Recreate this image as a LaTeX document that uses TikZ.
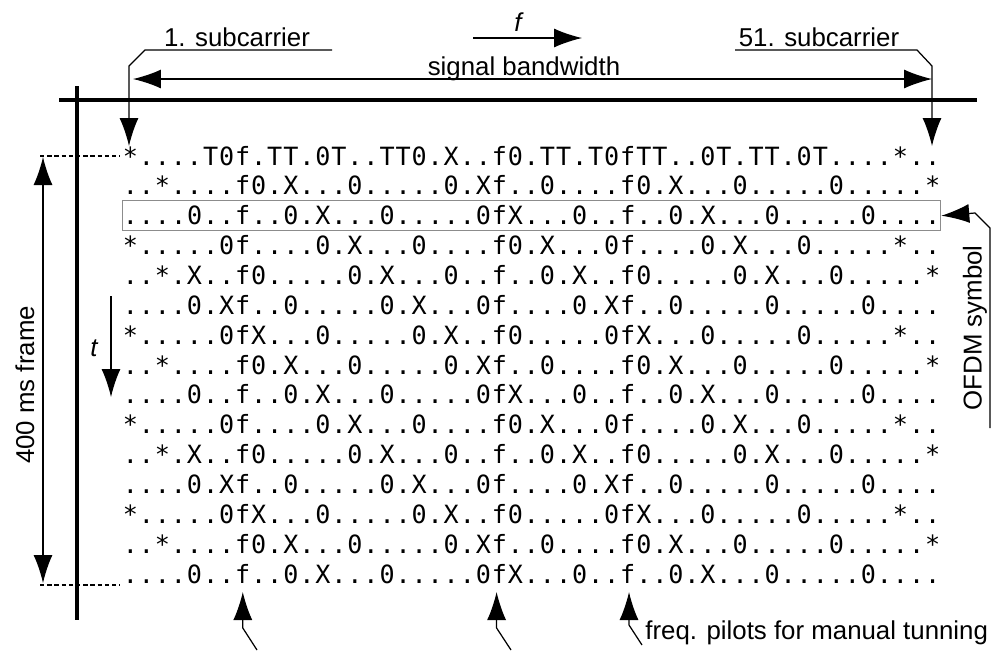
\documentclass[tikz,border=0pt]{standalone}
\usepackage{fontspec}
\setmainfont{Liberation Sans}
\newfontfamily\monofont{DejaVu Sans Mono}
\usetikzlibrary{arrows.meta}
\newcommand\cellw{0.321cm}
\makeatletter
\def\mrow#1{\mrow@i#1\relax}
\def\mrow@i#1{\ifx#1\relax\else\makebox[\cellw]{#1}\expandafter\mrow@i\fi}
\makeatother
\begin{document}
\begin{tikzpicture}[x=0.02cm,y=-0.02cm,
  lbl/.style={font=\fontsize{14.7}{17}\selectfont, inner sep=0},
  rowtxt/.style={font=\monofont\fontsize{14.3}{16}\selectfont, inner sep=0, anchor=base west, text height=0.48cm, text depth=0.12cm},
  axisline/.style={line width=2pt},
  conn/.style={line width=0.7pt},
  bigarrow/.style={conn, -{Latex[length=0.56cm,width=0.38cm]}},
  dblarrow/.style={conn, {Latex[length=0.56cm,width=0.38cm]}-{Latex[length=0.56cm,width=0.38cm]}},
  guide/.style={line width=0.7pt, dash pattern=on 2.5pt off 1.6pt}
]
\useasboundingbox (0,0) rectangle (1000,650);
\fill[white] (0,0) rectangle (1000,650);

% axes
\draw[axisline] (59,100) -- (977,100);
\draw[axisline] (77,86) -- (77,620);

% rows
\def\rA{..*....f0.X...0.....0.Xf..0....f0.X...0.....0.....*}
\def\rB{....0..f..0.X...0.....0fX...0..f..0.X...0.....0....}
\def\rC{*.....0f....0.X...0....f0.X...0f....0.X...0.....*..}
\def\rD{..*.X..f0.....0.X...0..f..0.X..f0.....0.X...0.....*}
\def\rE{....0.Xf..0.....0.X...0f....0.Xf..0.....0.....0....}
\def\rF{*.....0fX...0.....0.X..f0.....0fX...0.....0.....*..}
\node[rowtxt] (r1) at (122,165) {\mrow{*....T0f.TT.0T..TT0.X..f0.TT.T0fTT..0T.TT.0T....*..}};
\node[rowtxt] (r2) at (122,194.86) {\expandafter\mrow\expandafter{\rA}};
\node[rowtxt, draw=black!45, line width=0.5pt] (r3) at (122,224.71) {\expandafter\mrow\expandafter{\rB}};
\node[rowtxt] (r4) at (122,254.57) {\expandafter\mrow\expandafter{\rC}};
\node[rowtxt] (r5) at (122,284.43) {\expandafter\mrow\expandafter{\rD}};
\node[rowtxt] (r6) at (122,314.29) {\expandafter\mrow\expandafter{\rE}};
\node[rowtxt] (r7) at (122,344.14) {\expandafter\mrow\expandafter{\rF}};
\node[rowtxt] (r8) at (122,374.00) {\expandafter\mrow\expandafter{\rA}};
\node[rowtxt] (r9) at (122,403.86) {\expandafter\mrow\expandafter{\rB}};
\node[rowtxt] (r10) at (122,433.71) {\expandafter\mrow\expandafter{\rC}};
\node[rowtxt] (r11) at (122,463.57) {\expandafter\mrow\expandafter{\rD}};
\node[rowtxt] (r12) at (122,493.43) {\expandafter\mrow\expandafter{\rE}};
\node[rowtxt] (r13) at (122,523.29) {\expandafter\mrow\expandafter{\rF}};
\node[rowtxt] (r14) at (122,553.14) {\expandafter\mrow\expandafter{\rA}};
\node[rowtxt] (r15) at (122,583.00) {\expandafter\mrow\expandafter{\rB}};

% top labels
\node[lbl] (sc1) at (237,37) {1. subcarrier};
\node[lbl] (sc51) at (819,37) {51. subcarrier};
\node[lbl, anchor=base] (bw) at (524,75) {signal bandwidth};
\node[lbl, font=\fontsize{14.7}{17}\selectfont\itshape] (f) at (518,22) {f};

\coordinate (fa) at (473,38);
\coordinate (fb) at (582,38);
\draw[bigarrow] (fa) -- (fb);

\coordinate (bwl) at (133,79);
\coordinate (bwr) at (932,79);
\draw[dblarrow] (bwl) -- (bwr);

\coordinate (s1a) at (332,50);
\coordinate (s1b) at (145,50);
\coordinate (s1c) at (129,66);
\coordinate (s1t) at (129,146);
\draw[bigarrow] (s1a) -- (s1b) -- (s1c) -- (s1t);

\coordinate (s5a) at (735,50);
\coordinate (s5b) at (917,50);
\coordinate (s5c) at (932,66);
\coordinate (s5t) at (932,146);
\draw[bigarrow] (s5a) -- (s5b) -- (s5c) -- (s5t);

% left: frame
\coordinate (g1a) at (40,156);
\coordinate (g1b) at (120,156);
\coordinate (g2a) at (40,585);
\coordinate (g2b) at (120,585);
\draw[guide] (g1a) -- (g1b);
\draw[guide] (g2a) -- (g2b);
\coordinate (fr1) at (43,157);
\coordinate (fr2) at (43,583);
\draw[dblarrow] (fr1) -- (fr2);
\node[lbl, rotate=90] (frame) at (25,385) {400 ms frame};

% t arrow
\node[lbl, font=\fontsize{14.7}{17}\selectfont\itshape] (t) at (94,348) {t};
\coordinate (ta) at (111,296);
\coordinate (tb) at (111,397);
\draw[bigarrow] (ta) -- (tb);

% OFDM symbol
\node[lbl, rotate=90] (ofdm) at (975,328) {OFDM symbol};
\coordinate (oa) at (990,428);
\coordinate (ob) at (990,228);
\coordinate (oc) at (975,213);
\draw[bigarrow] (oa) -- (ob) -- (oc) -- (r3.east);

% freq pilots
\node[lbl, anchor=west] (fp) at (645,633) {freq. pilots for manual tunning};
\coordinate (p1a) at (257,650);
\coordinate (p1b) at (242.8,628);
\coordinate (p1t) at (242.8,592);
\coordinate (p2a) at (511,650);
\coordinate (p2b) at (496.6,628);
\coordinate (p2t) at (496.6,592);
\coordinate (p3a) at (642,645);
\coordinate (p3b) at (629,625);
\coordinate (p3t) at (629,592);
\draw[bigarrow] (p1a) -- (p1b) -- (p1t);
\draw[bigarrow] (p2a) -- (p2b) -- (p2t);
\draw[bigarrow] (p3a) -- (p3b) -- (p3t);
\end{tikzpicture}
\end{document}
